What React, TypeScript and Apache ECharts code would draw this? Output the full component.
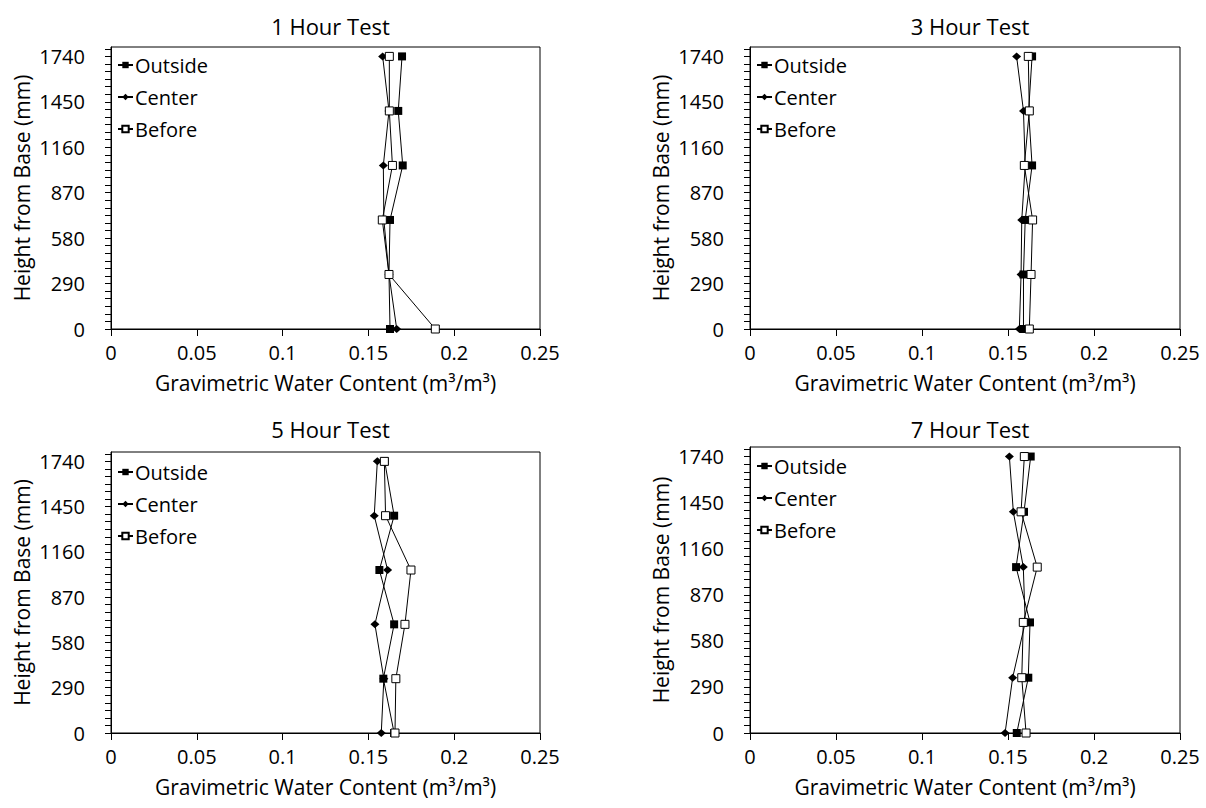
import React, { useEffect, useRef } from "react";
import * as echarts from "echarts";

// Heights (mm) at which the water content was measured
const heights = [0, 348, 696, 1044, 1392, 1740];
// Y-axis tick labels
const heightTicks = [0, 290, 580, 870, 1160, 1450, 1740];

const panelTitles = ["1 Hour Test", "3 Hour Test", "5 Hour Test", "7 Hour Test"];
const seriesNames = ["Outside", "Center", "Before"];

// 1 Hour Test
const outside1 = [0.1626, 0.162, 0.1626, 0.170, 0.1674, 0.1696];
const center1 = [0.1665, 0.162, 0.159, 0.1587, 0.162, 0.1583];
const before1 = [0.189, 0.162, 0.1581, 0.164, 0.1622, 0.1622];

// 3 Hour Test
const outside3 = [0.159, 0.159, 0.160, 0.164, 0.162, 0.164];
const center3 = [0.1566, 0.1576, 0.158, 0.160, 0.159, 0.155];
const before3 = [0.1624, 0.1634, 0.1643, 0.1595, 0.1624, 0.1618];

// 5 Hour Test
const outside5 = [0.165, 0.1587, 0.165, 0.1564, 0.165, 0.1595];
const center5 = [0.1575, 0.159, 0.1538, 0.1612, 0.1534, 0.1552];
const before5 = [0.1655, 0.166, 0.1713, 0.1748, 0.160, 0.1593];

// 7 Hour Test
const outside7 = [0.1551, 0.1618, 0.1628, 0.1547, 0.1593, 0.1632];
const center7 = [0.1483, 0.1527, 0.160, 0.1589, 0.1531, 0.1508];
const before7 = [0.1605, 0.158, 0.1589, 0.167, 0.1576, 0.1595];

const panelData = [
  [outside1, center1, before1],
  [outside3, center3, before3],
  [outside5, center5, before5],
  [outside7, center7, before7],
];

const FONT = "Open Sans";

export default function App() {
  const ref = useRef<HTMLDivElement>(null);

  useEffect(() => {
    if (!ref.current) return;
    const chart = echarts.init(ref.current, null, { renderer: "svg" });

    const grids = [
      { left: 111, top: 47, width: 429, height: 282 },
      { left: 750, top: 47, width: 430, height: 282 },
      { left: 111, top: 452, width: 429, height: 281 },
      { left: 750, top: 447, width: 430, height: 286 },
    ];
    const titleTops = [10, 10, 413, 413];
    const legendTops = [55, 55, 462, 456];

    const yFormatter = (v: number) => {
      const k = v / 290;
      const r = Math.round(k);
      if (Math.abs(k - r) < 0.01 && r >= 0 && r < heightTicks.length) {
        return String(heightTicks[r]);
      }
      return "";
    };

    const series: any[] = [];
    panelData.forEach((sets, p) => {
      sets.forEach((vals, s) => {
        const base: any = {
          name: seriesNames[s],
          type: "line",
          xAxisIndex: p,
          yAxisIndex: p,
          data: vals.map((v, i) => [v, heights[i]]),
          lineStyle: { color: "#000", width: 1 },
          z: 2 + s,
        };
        if (s === 0) {
          base.symbol = "rect";
          base.symbolSize = 8;
          base.itemStyle = { color: "#000", borderColor: "#000", borderWidth: 0 };
        } else if (s === 1) {
          base.symbol = "diamond";
          base.symbolSize = [9, 8];
          base.itemStyle = { color: "#000", borderColor: "#000", borderWidth: 0 };
        } else {
          base.symbol = "rect";
          base.symbolSize = 8;
          base.itemStyle = { color: "#fff", borderColor: "#000", borderWidth: 1 };
        }
        series.push(base);
      });
    });

    const option: any = {
      animation: false,
      textStyle: { fontFamily: FONT, color: "#000" },
      title: grids.map((g, i) => ({
        text: panelTitles[i],
        left: g.left + g.width / 2,
        top: titleTops[i],
        textAlign: "center",
        textStyle: { fontFamily: FONT, fontSize: 22, fontWeight: "normal", color: "#000" },
      })),
      legend: grids.map((g, i) => ({
        orient: "vertical",
        left: g.left + 6,
        top: legendTops[i],
        itemWidth: 15,
        itemHeight: 8,
        itemGap: 12,
        padding: 0,
        data: seriesNames.map((n) => ({ name: n })),
        textStyle: { fontFamily: FONT, fontSize: 20, color: "#000", lineHeight: 20, padding: [0, 0, 0, -3] },
        seriesIndex: [i * 3, i * 3 + 1, i * 3 + 2],
      })),
      grid: grids.map((g) => ({
        ...g,
        show: true,
        borderColor: "#000",
        borderWidth: 1,
        containLabel: false,
      })),
      xAxis: grids.map((g, i) => ({
        type: "value",
        gridIndex: i,
        min: 0,
        max: 0.25,
        interval: 0.05,
        name: "Gravimetric Water Content (m³/m³)",
        nameLocation: "middle",
        nameGap: 43,
        nameTextStyle: { fontFamily: FONT, fontSize: 21, color: "#000" },
        axisLine: { show: true, lineStyle: { color: "#000", width: 1 } },
        axisTick: { show: true, inside: false, length: 7, lineStyle: { color: "#000" } },
        axisLabel: { fontFamily: FONT, fontSize: 20, color: "#000", margin: 13 },
        splitLine: { show: false },
      })),
      yAxis: grids.map((g, i) => ({
        type: "value",
        gridIndex: i,
        min: 0,
        max: 1800,
        interval: 290 / 6,
        name: "Height from Base (mm)",
        nameLocation: "middle",
        nameRotate: 90,
        nameGap: 79,
        nameTextStyle: { fontFamily: FONT, fontSize: 21, color: "#000" },
        axisLine: { show: true, lineStyle: { color: "#000", width: 1 } },
        axisTick: { show: true, inside: false, length: 6, lineStyle: { color: "#000", width: 1 } },
        axisLabel: {
          fontFamily: FONT,
          fontSize: 20,
          color: "#000",
          margin: 26,
          showMaxLabel: false,
          formatter: yFormatter,
        },
        splitLine: { show: false },
      })),
      series,
    };

    chart.setOption(option);
    return () => chart.dispose();
  }, []);

  return (
    <div
      ref={ref}
      style={{ position: "absolute", left: 0, top: 0, width: 1206, height: 808, background: "#fff" }}
    />
  );
}
